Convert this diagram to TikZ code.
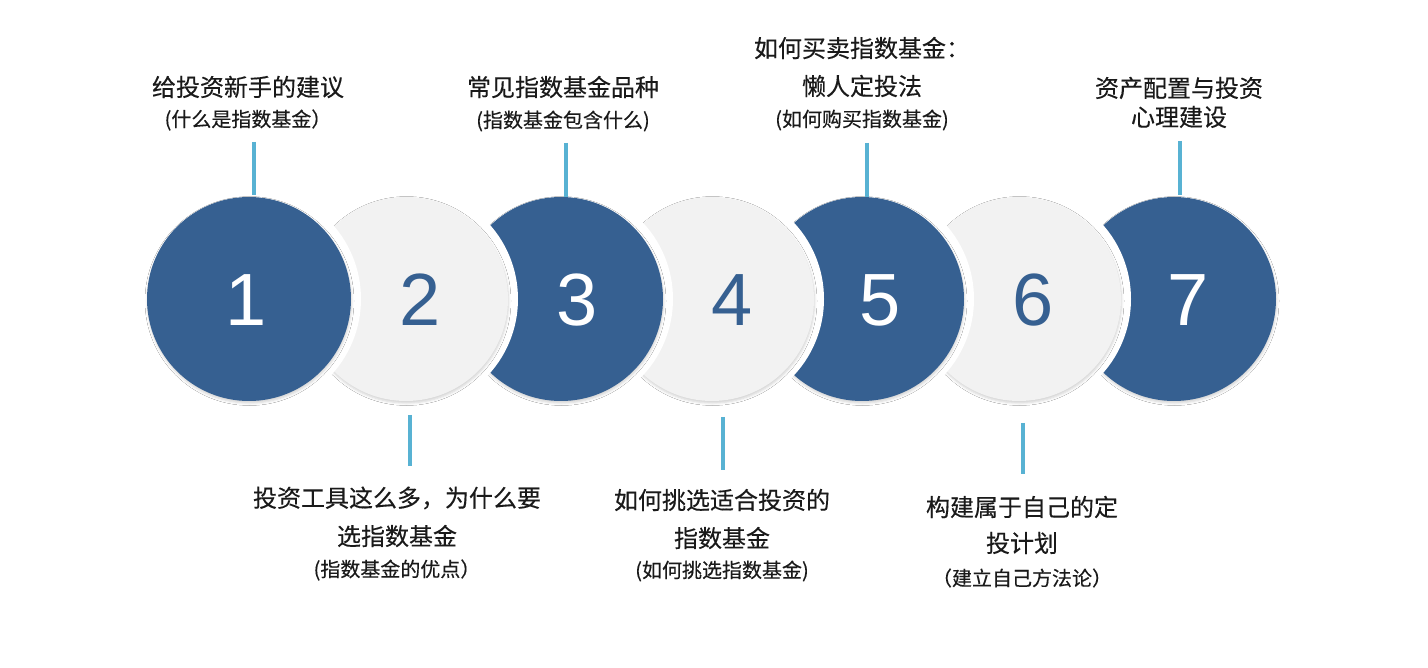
\documentclass[tikz,border=0pt]{standalone}
\usepackage{fontspec}
\setmainfont{Liberation Sans}
\newfontfamily\cjk[FakeBold=0.3]{Noto Sans CJK SC}
\usetikzlibrary{shadows.blur}
\definecolor{dblue}{RGB}{54,96,145}
\definecolor{lgray}{RGB}{242,242,242}
\definecolor{tealline}{RGB}{88,178,211}
\definecolor{txt}{RGB}{26,26,26}
\begin{document}
\begin{tikzpicture}[x=1pt,y=-1pt,
  base/.style={circle, minimum size=204pt, inner sep=0pt,
    blur shadow={shadow xshift=0.5pt, shadow yshift=-2pt, shadow blur radius=2.5pt, shadow opacity=18}},
  dcirc/.style={base, fill=dblue},
  lcirc/.style={base, fill=lgray},
  gapdisk/.style={circle, fill=white, minimum size=224pt, inner sep=0pt},
  dnum/.style={font=\fontsize{74}{74}\selectfont, text=white},
  lnum/.style={font=\fontsize{74}{74}\selectfont, text=dblue},
  lbl/.style={font=\cjk\fontsize{24}{30}\selectfont, text=txt, inner sep=0pt},
  sub/.style={font=\cjk\fontsize{20}{24}\selectfont, text=txt, inner sep=0pt},
  tick/.style={draw=tealline, line width=4pt}]
\useasboundingbox (0,0) rectangle (1428,668);
\fill[white] (0,0) rectangle (1428,668);
% circles, right to left, each cut by a white gap around its left neighbour
\node[dcirc] (c7) at (1174,299) {};
\node[gapdisk] (g6) at (1019,299) {};
\node[lcirc] (c6) at (1019,299) {};
\node[gapdisk] (g5) at (862,299) {};
\node[dcirc] (c5) at (862,299) {};
\node[gapdisk] (g4) at (712,299) {};
\node[lcirc] (c4) at (712,299) {};
\node[gapdisk] (g3) at (561,299) {};
\node[dcirc] (c3) at (561,299) {};
\node[gapdisk] (g2) at (406,299) {};
\node[lcirc] (c2) at (406,299) {};
\node[gapdisk] (g1) at (249,299) {};
\node[dcirc] (c1) at (249,299) {};
% digits
\node[dnum] (n1) at (246,300) {1};
\node[lnum] (n2) at (420,300) {2};
\node[dnum] (n3) at (577,300) {3};
\node[lnum] (n4) at (732,300) {4};
\node[dnum] (n5) at (880,300) {5};
\node[lnum] (n6) at (1033,300) {6};
\node[dnum] (n7) at (1188,300) {7};
% top labels
\node[lbl] (t1a) at (248,87) {给投资新手的建议};
\node[sub] (t1b) at (248,120) {(什么是指数基金）};
\node[lbl] (t3a) at (563,87) {常见指数基金品种};
\node[sub] (t3b) at (563,121) {(指数基金包含什么)};
\node[lbl] (t5a) at (862,48) {如何买卖指数基金：};
\node[lbl] (t5b) at (862,86) {懒人定投法};
\node[sub] (t5c) at (862,120) {(如何购买指数基金)};
\node[lbl] (t7a) at (1179,88) {资产配置与投资};
\node[lbl] (t7b) at (1179,117) {心理建设};
% bottom labels
\node[lbl] (t2a) at (397,498) {投资工具这么多，为什么要};
\node[lbl] (t2b) at (397,536) {选指数基金};
\node[sub] (t2c) at (397,570) {(指数基金的优点）};
\node[lbl] (t4a) at (722,500) {如何挑选适合投资的};
\node[lbl] (t4b) at (722,538) {指数基金};
\node[sub] (t4c) at (722,571) {(如何挑选指数基金)};
\node[lbl] (t6a) at (1022,507) {构建属于自己的定};
\node[lbl] (t6b) at (1022,543) {投计划};
\node[sub] (t6c) at (1022,578) {（建立自己方法论）};
% ticks
\coordinate (k1a) at (254,142); \coordinate (k1b) at (254,195);
\coordinate (k3a) at (566,143); \coordinate (k3b) at (566,197);
\coordinate (k5a) at (867,143); \coordinate (k5b) at (867,197);
\coordinate (k7a) at (1180,141); \coordinate (k7b) at (1180,195);
\coordinate (k2a) at (410,415); \coordinate (k2b) at (410,466);
\coordinate (k4a) at (723,417); \coordinate (k4b) at (723,470);
\coordinate (k6a) at (1023,423); \coordinate (k6b) at (1023,474);
\draw[tick] (k1a) -- (k1b);
\draw[tick] (k3a) -- (k3b);
\draw[tick] (k5a) -- (k5b);
\draw[tick] (k7a) -- (k7b);
\draw[tick] (k2a) -- (k2b);
\draw[tick] (k4a) -- (k4b);
\draw[tick] (k6a) -- (k6b);
\end{tikzpicture}
\end{document}
